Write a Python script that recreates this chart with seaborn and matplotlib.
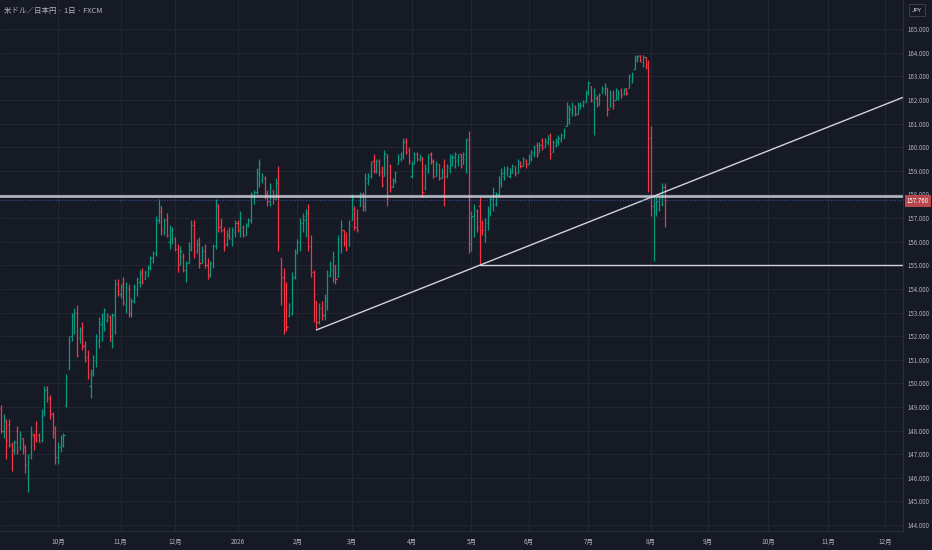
import numpy as np
import pandas as pd
import matplotlib
matplotlib.use("Agg")
import matplotlib.pyplot as plt
import seaborn as sns

# =========================
# Data: USD/JPY daily OHLC (FXCM), one bar per business day from 2025-09-02
# =========================
FIRST_DAY = "2025-09-02"

opens = [
    148.9, 148.0, 148.4, 148.3, 147.4, 147.2, 148.0, 147.3, 147.7, 147.3, 146.0, 147.0, 147.8, 148.0, 147.8, 147.6, 148.8, 149.8, 149.4, 148.7, 148.1,  # Sep
    146.9, 147.3, 147.4, 149.1, 150.6, 152.0, 152.8, 153.0, 151.9, 152.3, 151.6, 151.1, 149.9, 150.5, 151.0, 151.8, 152.5, 152.6, 152.7, 152.8, 151.8, 152.9, 154.2,  # Oct
    153.8, 154.2, 153.3, 154.0, 153.0, 153.5, 154.0, 154.3, 154.7, 154.4, 154.6, 154.9, 155.2, 155.5, 156.9, 157.3, 156.4, 156.9, 156.0, 156.1,  # Nov
    156.1, 155.7, 155.0, 155.4, 154.8, 155.1, 155.7, 156.7, 155.6, 155.9, 155.1, 155.6, 155.0, 154.6, 155.0, 155.8, 157.5, 156.7, 156.5, 155.9, 156.3, 156.1, 156.4,  # Dec
    156.8, 156.5, 156.6, 156.3, 156.7, 156.9, 157.8, 158.1, 158.9, 158.6, 158.7, 158.0, 157.7, 158.2, 157.8, 158.5, 155.3, 154.5, 153.8, 152.9, 153.0, 154.5,  # Jan
    155.5, 156.0, 156.8, 156.9, 157.2, 155.8, 154.7, 153.5, 152.6, 153.2, 152.9, 153.5, 154.6, 154.8, 155.0, 154.5, 156.0, 156.5, 156.0, 155.8,  # Feb
    156.9, 157.4, 157.0, 157.5, 158.0, 157.5, 158.5, 158.8, 159.4, 159.0, 159.4, 159.0, 158.8, 159.6, 159.2, 158.3, 158.6, 159.3, 159.5, 159.6, 160.3, 159.9,  # Mar
    158.8, 159.3, 159.7, 159.5, 159.6, 158.3, 159.0, 159.7, 159.4, 158.8, 159.3, 158.7, 159.2, 158.8, 159.1, 159.3, 159.2, 159.4, 159.7, 159.3, 159.5, 160.3,  # Apr
    155.9, 157.1, 157.3, 157.5, 156.8, 156.3, 156.8, 157.2, 157.6, 157.6, 158.0, 158.5, 158.8, 158.9, 158.8, 158.9, 159.2, 158.9, 159.3, 159.2, 159.4,  # May
    159.3, 159.5, 159.7, 160.1, 159.8, 160.3, 160.0, 160.2, 160.5, 159.8, 160.1, 160.2, 160.3, 160.4, 160.9, 161.2, 161.5, 161.7, 161.4, 161.7, 161.8, 161.9,  # Jun
    162.3, 162.6, 161.9, 162.1, 161.8, 162.3, 162.4, 162.5, 161.7, 162.3, 162.0, 162.1, 162.4, 162.3, 162.5, 162.5, 162.8, 163.3, 163.7, 163.9, 163.6, 163.8, 163.5,  # Jul
    160.4, 157.5, 157.3, 157.4, 157.6, 158.3,  # Aug
]
highs = [
    149.1, 148.7, 148.5, 148.5, 147.5, 147.6, 148.2, 148.0, 147.7, 147.4, 147.0, 148.2, 147.9, 148.4, 147.9, 148.9, 149.9, 149.9, 149.5, 148.8, 148.2,
    147.5, 147.8, 147.9, 150.4, 152.0, 153.0, 153.2, 153.3, 152.4, 152.6, 151.8, 151.4, 150.6, 151.2, 152.1, 152.8, 153.0, 153.2, 153.0, 152.9, 153.0, 154.4, 154.4,
    154.2, 154.5, 154.3, 154.2, 153.6, 154.2, 154.5, 154.8, 154.9, 154.8, 155.0, 155.4, 155.6, 157.1, 157.8, 157.5, 157.0, 157.2, 156.7, 156.6,
    156.2, 155.9, 155.8, 155.5, 155.2, 156.0, 156.9, 156.9, 156.1, 156.2, 155.8, 155.9, 155.3, 155.2, 155.9, 157.8, 157.6, 157.0, 156.6, 156.5, 156.6, 156.6, 156.9,
    156.9, 157.3, 156.7, 156.8, 157.0, 158.1, 158.2, 159.1, 159.5, 158.9, 158.8, 158.2, 158.5, 158.2, 158.7, 159.2, 155.3, 154.9, 154.3, 153.4, 154.7, 155.7,
    156.1, 157.0, 157.2, 157.4, 157.6, 156.3, 154.8, 153.5, 153.4, 153.5, 153.8, 154.8, 155.2, 155.6, 155.0, 156.3, 156.9, 156.5, 156.4, 156.9,
    158.0, 157.5, 157.4, 158.1, 158.1, 158.9, 158.9, 159.4, 159.7, 159.5, 159.5, 159.2, 159.9, 159.7, 159.3, 158.7, 159.0, 159.7, 159.8, 160.4, 160.4, 160.0,
    159.4, 159.8, 159.8, 159.7, 159.6, 159.3, 159.7, 159.8, 159.5, 159.4, 159.3, 159.1, 159.5, 159.3, 159.7, 159.7, 159.8, 159.7, 159.7, 159.8, 160.4, 160.7,
    157.3, 157.6, 157.4, 157.9, 156.9, 157.0, 157.5, 157.9, 158.3, 158.1, 158.8, 159.1, 159.2, 159.2, 159.1, 159.3, 159.2, 159.5, 159.4, 159.6, 159.5,
    159.7, 159.9, 160.1, 160.2, 160.2, 160.4, 160.4, 160.5, 160.6, 160.3, 160.4, 160.5, 160.6, 160.8, 161.9, 161.8, 161.9, 161.8, 161.9, 161.9, 162.0, 162.4,
    162.8, 162.6, 162.5, 162.2, 162.3, 162.6, 162.7, 162.5, 162.4, 162.4, 162.5, 162.4, 162.5, 162.5, 162.5, 163.1, 163.2, 163.9, 163.9, 163.9, 163.9, 163.8, 163.7,
    160.9, 157.9, 157.9, 157.9, 158.5, 158.5,
]
lows = [
    147.9, 147.7, 146.8, 147.3, 146.3, 147.0, 147.0, 147.2, 147.0, 146.2, 145.4, 146.8, 147.2, 147.5, 147.5, 147.5, 148.6, 149.2, 148.5, 147.7, 146.6,
    146.6, 147.1, 147.3, 149.0, 150.6, 151.8, 152.1, 151.1, 151.7, 151.4, 150.9, 150.2, 149.4, 150.3, 150.7, 151.5, 151.8, 152.2, 152.6, 151.8, 151.5, 152.1, 153.7,
    153.6, 153.3, 153.0, 152.8, 152.8, 153.4, 153.7, 154.1, 154.2, 154.4, 154.5, 154.8, 155.1, 155.4, 156.8, 156.3, 156.3, 156.2, 155.7, 155.9,
    155.6, 154.7, 155.0, 154.7, 154.3, 155.1, 155.6, 155.3, 155.5, 154.9, 155.1, 154.9, 154.4, 154.5, 154.9, 155.7, 156.4, 156.4, 155.6, 155.8, 156.1, 155.8, 156.2,
    156.4, 156.2, 156.2, 156.3, 156.6, 156.8, 157.6, 158.0, 158.3, 158.5, 157.8, 157.5, 157.5, 157.6, 157.8, 155.6, 153.3, 152.1, 152.2, 152.8, 152.9, 154.4,
    155.5, 155.6, 156.4, 156.2, 155.6, 154.5, 152.6, 152.3, 152.5, 152.7, 152.7, 153.1, 154.5, 154.3, 154.2, 154.5, 155.5, 155.8, 155.6, 155.8,
    156.9, 156.5, 156.4, 157.5, 157.3, 157.3, 158.4, 158.7, 158.9, 158.9, 158.8, 158.3, 158.8, 157.5, 158.1, 158.3, 158.5, 159.3, 159.4, 159.5, 159.7, 159.3,
    158.7, 159.3, 159.4, 159.4, 157.9, 158.2, 158.9, 159.3, 158.7, 158.8, 158.6, 158.7, 157.5, 158.7, 158.9, 159.2, 159.1, 159.2, 159.1, 159.3, 158.9, 155.5,
    155.6, 156.2, 156.4, 155.0, 156.3, 156.0, 156.5, 157.1, 157.3, 157.5, 157.9, 158.3, 158.6, 158.8, 158.7, 158.9, 158.8, 158.9, 159.1, 159.2, 159.1,
    159.3, 159.4, 159.6, 159.6, 159.8, 159.9, 160.0, 160.1, 159.5, 159.8, 160.0, 160.1, 160.2, 160.4, 160.9, 161.0, 161.3, 161.3, 161.4, 161.6, 161.7, 161.9,
    162.2, 161.9, 160.5, 161.7, 161.8, 162.3, 162.2, 161.3, 161.7, 161.6, 162.0, 162.0, 162.1, 162.2, 162.2, 162.5, 162.7, 163.3, 163.6, 163.6, 163.4, 163.3, 158.1,
    157.1, 155.2, 157.1, 157.3, 157.5, 156.6,
]
closes = [
    148.0, 148.5, 147.6, 147.4, 147.2, 147.5, 147.2, 147.8, 147.4, 146.6, 146.9, 147.9, 147.7, 147.6, 147.5, 148.8, 149.7, 149.4, 148.7, 147.9, 146.9,
    147.3, 147.7, 147.8, 150.3, 151.8, 152.9, 153.0, 151.2, 152.2, 151.6, 151.0, 150.4, 150.4, 151.1, 152.0, 152.6, 152.9, 153.1, 152.9, 152.0, 152.9, 154.2, 153.9,
    154.1, 153.4, 154.1, 153.0, 153.5, 154.1, 154.4, 154.6, 154.3, 154.7, 154.9, 155.3, 155.5, 156.8, 157.5, 156.5, 156.9, 156.3, 156.5, 156.5,
    155.7, 155.0, 155.6, 154.8, 155.1, 155.8, 156.7, 155.5, 155.9, 155.1, 155.6, 155.0, 154.6, 155.1, 155.8, 157.6, 156.6, 156.5, 155.8, 156.3, 156.2, 156.5, 156.8,
    156.5, 157.0, 156.3, 156.7, 156.9, 158.0, 158.1, 158.9, 159.3, 158.8, 158.0, 157.7, 158.3, 157.9, 158.5, 155.8, 154.5, 152.6, 152.4, 153.3, 154.4, 155.5,
    156.0, 156.8, 157.1, 157.2, 155.8, 154.7, 153.8, 152.6, 153.2, 152.9, 153.6, 154.6, 155.1, 155.4, 154.4, 156.1, 156.7, 155.9, 155.7, 156.7,
    157.8, 156.6, 156.5, 158.0, 157.5, 158.7, 158.8, 159.3, 159.0, 159.4, 158.9, 158.4, 159.7, 157.8, 158.3, 158.6, 158.9, 159.6, 159.7, 160.2, 159.8, 159.4,
    159.3, 159.7, 159.5, 159.6, 158.1, 159.1, 159.6, 159.4, 158.8, 159.3, 158.7, 159.0, 158.8, 159.2, 159.6, 159.6, 159.7, 159.6, 159.2, 159.7, 160.3, 155.9,
    157.1, 157.4, 156.6, 156.5, 156.5, 156.9, 157.3, 157.8, 158.1, 158.0, 158.6, 158.9, 159.0, 159.1, 159.0, 159.2, 158.9, 159.4, 159.2, 159.5, 159.3,
    159.6, 159.8, 160.0, 159.7, 160.1, 160.0, 160.3, 160.4, 159.7, 160.2, 160.3, 160.4, 160.5, 160.7, 161.7, 161.6, 161.8, 161.4, 161.8, 161.8, 161.9, 162.3,
    162.7, 162.0, 162.2, 161.8, 162.2, 162.5, 162.6, 161.6, 162.2, 161.8, 162.4, 162.3, 162.2, 162.4, 162.3, 163.0, 163.1, 163.8, 163.85, 163.7, 163.8, 163.4, 160.4,
    157.5, 157.6, 157.7, 157.8, 158.3, 157.76,
]

# drawings on the chart (bar index, price)
trend_idx = [116, 176]
trend_px = [152.26, 155.0]
resistance_level = 157.93
support_idx = 176
support_level = 155.0
last_price = closes[-1]

title_text = "米ドル／日本円 · 1日 · FXCM"
price_ticks = list(range(144, 166))

# =========================
# Style
# =========================
BG = "#161a25"
GRID = "#222633"
AXIS_LINE = "#2a2e39"
TEXT = "#b2b5be"
UP = "#089981"
DOWN = "#f23645"
DRAW = "#d1d4dc"

sns.set_theme(style="dark", rc={
    "axes.facecolor": BG,
    "figure.facecolor": BG,
    "savefig.facecolor": BG,
})
plt.rcParams["font.family"] = ["Noto Sans CJK JP", "DejaVu Sans"]

W, H = 932, 550
fig = plt.figure(figsize=(W / 100, H / 100), dpi=100)
ax = fig.add_axes([0, 19 / H, 903 / W, 531 / H])

# =========================
# OHLC bars
# =========================
df = pd.DataFrame({"open": opens, "high": highs, "low": lows, "close": closes})
df["date"] = pd.bdate_range(FIRST_DAY, periods=len(df))
df["x"] = np.arange(len(df))
cols = np.where(df["close"] >= df["open"], UP, DOWN)

TICK = 0.42
ax.vlines(df["x"], df["low"], df["high"], colors=cols, lw=0.9)
ax.hlines(df["open"], df["x"] - TICK, df["x"], colors=cols, lw=0.9)
ax.hlines(df["close"], df["x"], df["x"] + TICK, colors=cols, lw=0.9)

XMIN, XMAX = -0.32, 331.66
ax.set_xlim(XMIN, XMAX)
ax.set_ylim(143.75, 166.23)

# =========================
# Drawings
# =========================
slope = (trend_px[1] - trend_px[0]) / (trend_idx[1] - trend_idx[0])
sns.lineplot(x=[trend_idx[0], XMAX], y=[trend_px[0], trend_px[0] + slope * (XMAX - trend_idx[0])],
             ax=ax, color=DRAW, lw=1.0)
sns.lineplot(x=[support_idx, XMAX], y=[support_level, support_level], ax=ax, color=DRAW, lw=1.0)
ax.axhline(resistance_level, color=DRAW, lw=1.9, alpha=0.85)
ax.axhline(last_price, color="#3a52b8", lw=0.8, ls=(0, (1, 1.5)), alpha=0.8)

# =========================
# Axes, grid, labels
# =========================
cal = pd.bdate_range(FIRST_DAY, "2026-12-31")
starts = np.flatnonzero(cal.month != np.roll(cal.month, 1))[1:]
month_pos = list(starts)
month_lab = ["2026" if cal[i].month == 1 else f"{cal[i].month}月" for i in starts]
ax.set_xticks(month_pos, month_lab)
ax.set_yticks(price_ticks, [f"{v:.3f}" for v in price_ticks])
ax.yaxis.tick_right()

ax.grid(True, color=GRID, lw=0.8)
ax.tick_params(axis="x", length=0, pad=5, labelsize=4.6, labelcolor=TEXT)
ax.tick_params(axis="y", length=0, pad=3.6, labelsize=4.4, labelcolor=TEXT)
for side in ["top", "left"]:
    ax.spines[side].set_visible(False)
for side in ["right", "bottom"]:
    ax.spines[side].set_visible(True)
    ax.spines[side].set_color(AXIS_LINE)
    ax.spines[side].set_linewidth(0.8)
ax.set_xlabel("")
ax.set_ylabel("")

# last price tag on the price scale (sits over the lower half of the 158.000 label)
ax.annotate(f"{last_price:.3f}", xy=(1.0, last_price), xycoords=("axes fraction", "data"),
            xytext=(2.6, -0.6), textcoords="offset points", ha="left", va="center",
            fontsize=4.4, color="white", annotation_clip=False,
            bbox=dict(boxstyle="square,pad=0.32", fc="#b8474e", ec="none"))

# currency box and title
fig.text(917 / W, 1 - 10 / H, "JPY", ha="center", va="center", fontsize=4.2, color="#d1d4dc",
         bbox=dict(boxstyle="square,pad=0.55", fc=BG, ec="#434651", lw=0.6))
fig.text(4 / W, 1 - 11 / H, title_text, ha="left", va="center", fontsize=5.4, color=TEXT)

fig.savefig("out.png", dpi=100)
